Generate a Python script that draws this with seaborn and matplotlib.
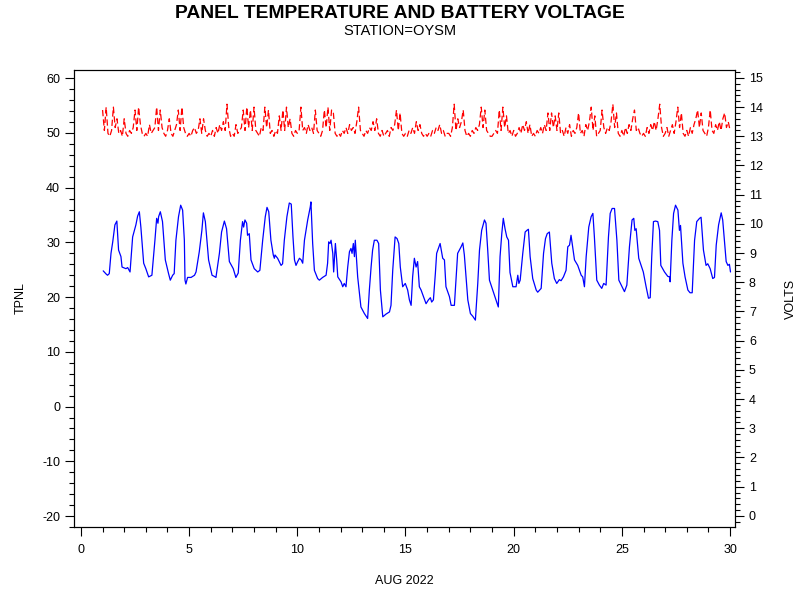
import numpy as np
import matplotlib
matplotlib.use("Agg")
import matplotlib.pyplot as plt
from matplotlib.ticker import MultipleLocator
import seaborn as sns

# Panel temperature (TPNL): day of August 2022, degrees
temp_day = [
    1.03, 1.17, 1.23, 1.31, 1.39, 1.47, 1.57, 1.66, 1.74, 1.85, 1.90, 2.08, 2.16, 2.27,
    2.39, 2.54, 2.62, 2.70, 2.77, 2.90, 3.00, 3.13, 3.28, 3.42, 3.50, 3.56, 3.59, 3.67,
    3.77, 3.90, 4.05, 4.13, 4.24, 4.31, 4.39, 4.51, 4.61, 4.70, 4.78, 4.81, 4.85, 4.93,
    5.09, 5.25, 5.32, 5.47, 5.59, 5.66, 5.75, 5.90, 6.06, 6.16, 6.24, 6.40, 6.50, 6.63,
    6.73, 6.86, 7.04, 7.16, 7.27, 7.37, 7.47, 7.52, 7.58, 7.66, 7.70, 7.78, 7.86, 8.01,
    8.17, 8.27, 8.40, 8.52, 8.60, 8.68, 8.78, 8.89, 8.94, 8.97, 9.09, 9.25, 9.32, 9.40,
    9.52, 9.63, 9.72, 9.80, 9.87, 9.94, 10.02, 10.10, 10.18, 10.25, 10.33, 10.48, 10.60,
    10.63, 10.71, 10.79, 10.94, 11.02, 11.17, 11.33, 11.40, 11.45, 11.51, 11.56, 11.64,
    11.68, 11.76, 11.82, 11.87, 12.02, 12.10, 12.17, 12.25, 12.33, 12.41, 12.48, 12.53,
    12.59, 12.64, 12.68, 12.79, 12.94, 13.10, 13.25, 13.33, 13.41, 13.48, 13.56, 13.68,
    13.76, 13.84, 13.95, 14.10, 14.26, 14.33, 14.41, 14.52, 14.61, 14.69, 14.76, 14.87,
    14.99, 15.10, 15.18, 15.26, 15.33, 15.41, 15.49, 15.56, 15.64, 15.72, 15.83, 15.95,
    16.06, 16.15, 16.21, 16.29, 16.38, 16.44, 16.60, 16.72, 16.80, 16.87, 17.03, 17.11,
    17.26, 17.34, 17.41, 17.57, 17.65, 17.72, 17.88, 18.00, 18.11, 18.23, 18.34, 18.42,
    18.52, 18.65, 18.72, 18.80, 18.88, 19.03, 19.18, 19.29, 19.37, 19.45, 19.52, 19.60,
    19.68, 19.76, 19.83, 19.96, 20.11, 20.19, 20.24, 20.30, 20.42, 20.53, 20.61, 20.68,
    20.76, 20.88, 21.04, 21.11, 21.27, 21.38, 21.47, 21.55, 21.65, 21.76, 21.88, 21.99,
    22.11, 22.19, 22.30, 22.42, 22.50, 22.58, 22.65, 22.81, 22.96, 23.12, 23.19, 23.27,
    23.35, 23.47, 23.58, 23.66, 23.73, 23.84, 23.96, 24.07, 24.16, 24.27, 24.38, 24.46,
    24.55, 24.66, 24.77, 24.86, 24.97, 25.12, 25.23, 25.35, 25.47, 25.55, 25.60, 25.66,
    25.78, 25.89, 25.99, 26.12, 26.23, 26.31, 26.38, 26.46, 26.55, 26.66, 26.74, 26.80,
    26.97, 27.12, 27.20, 27.23, 27.31, 27.39, 27.48, 27.59, 27.66, 27.71, 27.82, 27.92,
    28.05, 28.15, 28.25, 28.36, 28.46, 28.59, 28.66, 28.77, 28.89, 28.97, 29.08, 29.20,
    29.28, 29.36, 29.47, 29.59, 29.66, 29.74, 29.82, 29.90, 29.97, 30.02,
]
temp_val = [
    24.8, 24.2, 24.0, 24.3, 28.0, 30.1, 33.2, 33.9, 28.6, 27.4, 25.5, 25.2, 25.4, 24.6,
    31.0, 33.2, 34.8, 35.6, 32.8, 26.2, 25.2, 23.7, 24.0, 30.4, 34.4, 33.5, 34.7, 35.6,
    33.8, 26.8, 24.3, 23.1, 24.0, 24.3, 30.4, 34.7, 36.8, 35.9, 30.4, 23.1, 22.4, 23.6,
    23.6, 24.0, 24.6, 28.3, 32.2, 35.4, 33.8, 26.8, 24.0, 23.8, 23.6, 28.0, 31.9, 33.9,
    32.5, 26.5, 25.2, 23.6, 24.4, 30.4, 33.8, 32.8, 34.1, 33.5, 31.3, 31.6, 26.8, 25.2,
    24.6, 24.9, 30.4, 34.7, 36.4, 35.6, 30.4, 27.7, 27.1, 27.7, 27.1, 25.8, 26.1, 30.4,
    34.7, 37.2, 37.0, 31.0, 26.8, 25.8, 26.5, 27.1, 26.8, 26.2, 30.4, 34.1, 36.5,
    37.4, 29.8, 24.9, 23.4, 23.1, 23.6, 24.0, 26.2, 30.1, 29.8, 30.4, 28.0,
    24.6, 29.8, 26.8, 23.7, 22.8, 21.9, 22.5, 21.9, 25.5, 28.3, 28.9, 28.0,
    29.8, 27.4, 30.4, 23.7, 18.2, 17.0, 16.1, 21.3, 25.5, 28.6, 30.4, 30.4,
    29.8, 21.3, 16.4, 16.9, 17.3, 18.5, 24.9, 31.0, 30.7, 29.8, 25.5, 21.9,
    22.5, 21.3, 19.5, 18.5, 23.7, 27.1, 25.5, 26.5, 21.9, 21.3, 20.1, 18.8,
    19.5, 19.9, 19.1, 19.5, 24.3, 28.0, 29.8, 27.1, 26.8, 21.9, 20.1, 18.5,
    18.5, 23.7, 28.0, 29.2, 29.9, 27.7, 19.5, 17.0, 16.5, 15.8, 22.5, 28.6,
    32.2, 34.1, 33.5, 28.6, 23.1, 21.3, 19.5, 18.2, 27.4, 31.6, 34.4, 32.5,
    31.0, 30.4, 24.5, 21.9, 21.9, 24.0, 22.5, 23.1, 28.0, 31.9, 32.2, 32.4,
    27.4, 23.4, 21.3, 20.9, 21.6, 28.0, 30.7, 31.6, 31.9, 26.2, 23.4, 22.5,
    23.2, 23.0, 23.7, 24.9, 29.2, 29.5, 31.3, 26.8, 25.8, 24.0, 23.7, 21.9,
    27.4, 32.8, 34.7, 35.3, 31.0, 23.1, 22.2, 21.6, 22.5, 22.2, 31.0, 35.3,
    36.2, 36.2, 30.4, 23.1, 22.2, 21.0, 22.2, 29.2, 34.1, 34.4, 32.2, 32.5,
    27.1, 25.8, 24.6, 21.9, 19.8, 19.9, 27.4, 33.8, 33.9, 33.8, 32.2, 25.8,
    24.6, 23.8, 23.7, 22.8, 30.4, 35.3, 36.8, 35.9, 32.2, 33.1, 26.2, 23.7,
    21.3, 20.8, 20.8, 30.4, 33.8, 34.4, 34.6, 28.6, 25.8, 26.1, 25.2, 23.4,
    23.6, 29.5, 33.2, 35.4, 34.1, 30.4, 26.5, 25.8, 26.0, 24.6,
]

# Battery voltage, two-hourly readings (00h, 02h .. 22h) for Aug 1..29, plus Aug 30 00h
volt_rows = [
    [13.9, 13.2, 14.0, 13.1, 13.0, 13.2, 14.0, 13.3, 13.6, 13.1, 13.2, 13.0],
    [13.6, 13.1, 13.0, 13.2, 13.1, 13.3, 13.9, 13.2, 14.0, 13.4, 13.1, 13.0],
    [13.1, 13.0, 13.4, 13.1, 13.2, 13.3, 14.0, 13.2, 13.9, 13.3, 13.1, 13.0],
    [13.2, 13.6, 13.1, 13.0, 13.2, 13.4, 13.9, 13.2, 14.0, 13.3, 13.1, 13.0],
    [13.1, 13.0, 13.2, 13.3, 13.1, 13.2, 13.6, 13.1, 13.6, 13.2, 13.0, 13.1],
    [13.0, 13.2, 13.0, 13.3, 13.1, 13.4, 13.2, 13.5, 13.2, 14.1, 13.3, 13.0],
    [13.1, 13.0, 13.4, 13.1, 13.2, 13.3, 13.9, 13.2, 14.0, 13.3, 13.9, 13.2],
    [14.0, 13.2, 13.1, 13.0, 13.3, 13.2, 14.0, 13.3, 13.9, 13.1, 13.2, 13.0],
    [13.2, 13.1, 13.7, 13.2, 13.9, 13.2, 14.0, 13.3, 13.6, 13.1, 13.0, 13.2],
    [13.1, 13.2, 14.0, 13.2, 13.3, 13.1, 13.4, 13.2, 13.3, 13.1, 13.9, 13.2],
    [13.1, 13.0, 13.2, 13.9, 13.3, 14.0, 13.2, 13.9, 13.8, 13.1, 13.0, 13.1],
    [13.0, 13.2, 13.1, 13.3, 13.1, 13.4, 13.2, 13.3, 13.1, 13.5, 14.0, 13.2],
    [13.1, 13.0, 13.2, 13.1, 13.3, 13.2, 13.5, 13.2, 13.6, 13.1, 13.0, 13.2],
    [13.0, 13.1, 13.2, 13.0, 13.3, 13.2, 13.4, 13.9, 13.2, 13.8, 13.1, 13.0],
    [13.1, 13.0, 13.2, 13.1, 13.3, 13.1, 13.5, 13.2, 13.4, 13.1, 13.0, 13.1],
    [13.0, 13.1, 13.0, 13.2, 13.1, 13.3, 13.2, 13.4, 13.1, 13.2, 13.0, 13.1],
    [13.1, 13.0, 13.3, 14.1, 13.2, 13.6, 13.3, 13.5, 13.9, 13.2, 13.0, 13.1],
    [13.0, 13.2, 13.1, 13.3, 13.2, 13.4, 14.0, 13.3, 13.9, 13.2, 13.1, 13.0],
    [13.0, 13.1, 13.2, 13.1, 13.9, 13.2, 14.0, 13.3, 13.7, 13.1, 13.2, 13.0],
    [13.2, 13.0, 13.1, 13.3, 13.1, 13.4, 13.2, 13.5, 13.1, 13.4, 13.0, 13.1],
    [13.0, 13.2, 13.1, 13.3, 13.1, 13.4, 13.2, 13.8, 13.2, 13.8, 13.3, 13.7],
    [13.2, 13.8, 13.1, 13.2, 13.0, 13.3, 13.1, 13.4, 13.0, 13.2, 13.1, 13.3],
    [13.8, 13.1, 13.2, 13.0, 13.4, 13.2, 13.5, 14.0, 13.2, 13.7, 13.0, 13.1],
    [13.2, 13.9, 13.3, 13.1, 13.3, 13.2, 13.5, 14.1, 13.3, 13.8, 13.1, 13.0],
    [13.2, 13.0, 13.3, 13.1, 13.4, 13.2, 13.6, 13.9, 13.2, 13.3, 13.1, 13.0],
    [13.1, 13.0, 13.3, 13.1, 13.4, 13.2, 13.5, 13.2, 13.6, 14.1, 13.3, 13.0],
    [13.1, 13.3, 13.0, 13.2, 13.4, 13.1, 13.5, 14.0, 13.3, 13.8, 13.1, 13.0],
    [13.2, 13.0, 13.3, 13.1, 13.4, 13.6, 13.9, 13.3, 13.8, 13.2, 13.1, 13.0],
    [13.3, 13.9, 13.2, 13.1, 13.4, 13.2, 13.5, 13.2, 13.6, 13.8, 13.3, 13.5],
]
volt_last = 13.2
volt_val = [v for row in volt_rows for v in row] + [volt_last]
volt_day = 1 + np.arange(len(volt_val)) / 12.0

x_ticks = [0, 5, 10, 15, 20, 25, 30]

sns.set_style("ticks")
plt.rcParams['font.family'] = ['Liberation Sans', 'DejaVu Sans']
plt.rcParams['axes.unicode_minus'] = False
plt.rcParams['text.color'] = 'black'
plt.rcParams['axes.labelcolor'] = 'black'

fig = plt.figure(figsize=(8, 6), dpi=100)
ax = fig.add_axes([0.0925, 0.1217, 0.8263, 0.7616])
ax2 = ax.twinx()

sns.lineplot(x=temp_day, y=temp_val, ax=ax, color="#0000FF", linewidth=0.9,
             estimator=None, sort=False)
sns.lineplot(x=volt_day, y=volt_val, ax=ax2, color="#FF0000", linewidth=0.9,
             estimator=None, sort=False, linestyle=(0, (5, 2.5)))

ax.set_xlim(-0.32, 30.23)
ax.set_ylim(-22.0, 61.5)
ax2.set_ylim(-0.38, 15.27)

ax.set_xticks(x_ticks)
ax.xaxis.set_minor_locator(MultipleLocator(1))
ax.yaxis.set_major_locator(MultipleLocator(10))
ax.yaxis.set_minor_locator(MultipleLocator(2))
ax2.yaxis.set_major_locator(MultipleLocator(1))
ax2.yaxis.set_minor_locator(MultipleLocator(0.2))

for a in (ax, ax2):
    for sp in a.spines.values():
        sp.set_visible(True)
        sp.set_color("black")
        sp.set_linewidth(0.8)
    a.tick_params(which="major", length=6.5, width=0.8, color="black",
                  labelsize=9, labelcolor="black", direction="out")
    a.tick_params(which="minor", length=3.5, width=0.8, color="black", direction="out")
ax.tick_params(axis="x", which="both", top=False)
ax.tick_params(axis="x", which="major", pad=5.5)
ax.tick_params(axis="y", which="both", right=False)

ax.set_xlabel("AUG 2022", fontsize=9, labelpad=14)
ax.set_ylabel("TPNL", fontsize=9, labelpad=11)
ax2.set_ylabel("VOLTS", fontsize=9, labelpad=16)

fig.text(0.5, 0.978, "PANEL TEMPERATURE AND BATTERY VOLTAGE", ha="center", va="center",
         fontsize=13.9, fontweight="bold")
fig.text(0.5, 0.949, "STATION=OYSM", ha="center", va="center", fontsize=10.5)

fig.savefig("out.png", dpi=100)
plt.close(fig)
